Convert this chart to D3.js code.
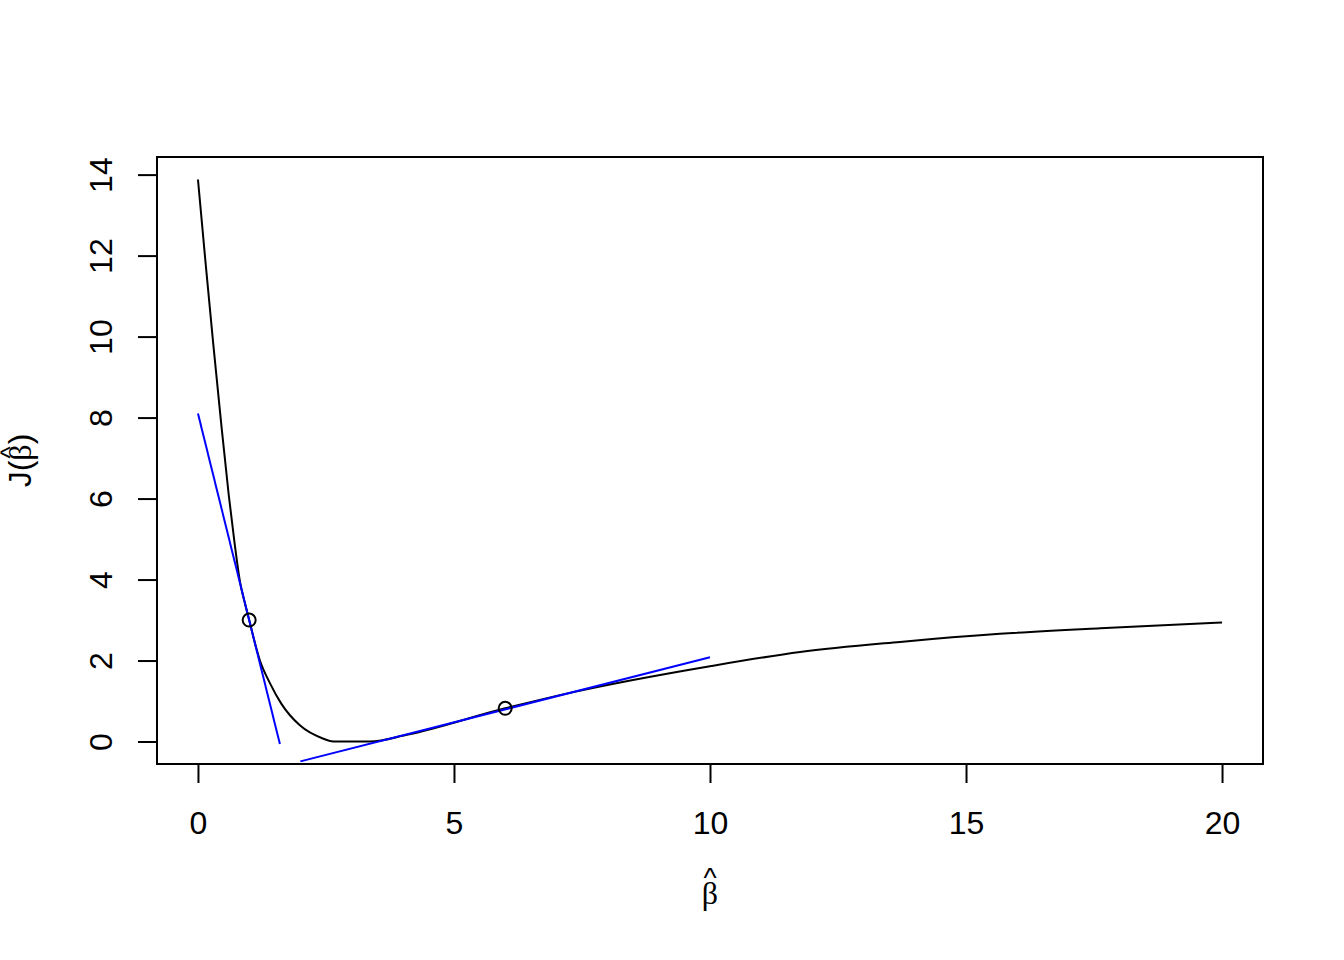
<!DOCTYPE html>
<html>
<head>
<meta charset="utf-8">
<script src="https://cdn.jsdelivr.net/npm/d3@7"></script>
<style>
  html, body { margin: 0; padding: 0; background: #fff; }
  svg { display: block; }
</style>
</head>
<body>
<script>
// ---- data ----
const betaValues = [0, 0.15, 0.30, 0.45, 0.60, 0.72, 0.82, 0.91, 1.0, 1.21, 1.41, 1.63, 1.99, 2.45, 2.64, 3.36, 4.08, 6.0, 7.33, 10.0, 11.76, 13.71, 15.66, 17.62, 20.0];
const jValues    = [13.88, 11.8, 9.8, 7.9, 6.1, 4.85, 3.95, 3.45, 3.0, 2.0, 1.43, 0.93, 0.40, 0.07, 0.0, 0.0, 0.165, 0.82, 1.22, 1.86, 2.21, 2.46, 2.66, 2.80, 2.94];

const pointBeta = [1, 6];
const pointJ    = [3.0, 0.82];

const tangent1Beta = [0, 1.6];
const tangent1J    = [8.1, -0.06];
const tangent2Beta = [2, 10];
const tangent2J    = [-0.49, 2.08];

const xTicks = [0, 5, 10, 15, 20];
const yTicks = [0, 2, 4, 6, 8, 10, 12, 14];

// ---- layout ----
const W = 1344, H = 960;
const plot = { left: 157, right: 1263, top: 157, bottom: 764 };
const FONT = "'Liberation Sans', Arial, sans-serif";
const SERIF = "'Liberation Serif', 'Times New Roman', serif";

const svg = d3.select("body").append("svg")
  .attr("width", W).attr("height", H)
  .style("background", "#fff");

const x = d3.scaleLinear().domain([-0.8, 20.8]).range([plot.left, plot.right]);
const y = d3.scaleLinear().domain([-0.555, 14.435]).range([plot.bottom, plot.top]);

// axes
const xAxis = d3.axisBottom(x).tickValues(xTicks).tickSize(19).tickSizeOuter(0);
const gx = svg.append("g").attr("transform", `translate(0,${plot.bottom})`).call(xAxis);
gx.select(".domain").attr("d", `M${x(xTicks[0])},0H${x(xTicks[xTicks.length-1])}`);
gx.selectAll("line, path").attr("stroke", "#000").attr("stroke-width", 2);
gx.selectAll(".tick text").attr("font-family", FONT).attr("font-size", 32).attr("fill", "#000")
  .attr("dy", null).attr("y", 834 - plot.bottom);

const yAxis = d3.axisLeft(y).tickValues(yTicks).tickSize(19).tickSizeOuter(0);
const gy = svg.append("g").attr("transform", `translate(${plot.left},0)`).call(yAxis);
gy.select(".domain").attr("d", `M0,${y(yTicks[0])}V${y(yTicks[yTicks.length-1])}`);
gy.selectAll("line, path").attr("stroke", "#000").attr("stroke-width", 2);
gy.selectAll(".tick text")
  .attr("font-family", FONT).attr("font-size", 32).attr("fill", "#000")
  .attr("dy", null).attr("text-anchor", "middle")
  .attr("transform", `translate(${111.5 - plot.left},0) rotate(-90)`)
  .attr("x", 0).attr("y", 0);

// box
svg.append("rect")
  .attr("x", plot.left).attr("y", plot.top)
  .attr("width", plot.right - plot.left).attr("height", plot.bottom - plot.top)
  .attr("fill", "none").attr("stroke", "#000").attr("stroke-width", 2);

// curve
const curveData = betaValues.map((b, i) => [b, jValues[i]]);
const line = d3.line().x(d => x(d[0])).y(d => y(d[1])).curve(d3.curveMonotoneX);
svg.append("path").datum(curveData)
  .attr("d", line).attr("fill", "none").attr("stroke", "#000").attr("stroke-width", 2);

// tangents
const straight = d3.line().x(d => x(d[0])).y(d => y(d[1]));
[[tangent1Beta, tangent1J], [tangent2Beta, tangent2J]].forEach(([bs, js]) => {
  svg.append("path").datum(bs.map((b, i) => [b, js[i]]))
    .attr("d", straight).attr("fill", "none").attr("stroke", "#0000ff").attr("stroke-width", 2);
});

// points
svg.selectAll("circle.pt").data(pointBeta.map((b, i) => [b, pointJ[i]]))
  .enter().append("circle").attr("class", "pt")
  .attr("cx", d => x(d[0])).attr("cy", d => y(d[1])).attr("r", 6.5)
  .attr("fill", "none").attr("stroke", "#000").attr("stroke-width", 2);

// x label: beta hat
const xc = (plot.left + plot.right) / 2;
svg.append("text").attr("x", xc).attr("y", 904).attr("text-anchor", "middle")
  .attr("font-family", SERIF).attr("font-size", 32).text("β");
svg.append("text").attr("x", xc).attr("y", 887).attr("text-anchor", "middle")
  .attr("font-family", FONT).attr("font-size", 28).text("^");

// y label: J(beta hat)
const yc = (plot.top + plot.bottom) / 2;
const gyl = svg.append("g").attr("transform", `translate(31,${yc}) rotate(-90)`);
const yl = gyl.append("text").attr("x", 0).attr("y", 0).attr("text-anchor", "middle")
  .attr("font-family", FONT).attr("font-size", 32);
yl.append("tspan").text("J(");
yl.append("tspan").attr("font-family", SERIF).text("β");
yl.append("tspan").text(")");
const ext = yl.node().getExtentOfChar(2);
gyl.append("text").attr("x", ext.x + ext.width / 2).attr("y", -12).attr("text-anchor", "middle")
  .attr("font-family", FONT).attr("font-size", 26).text("^");
</script>
</body>
</html>
